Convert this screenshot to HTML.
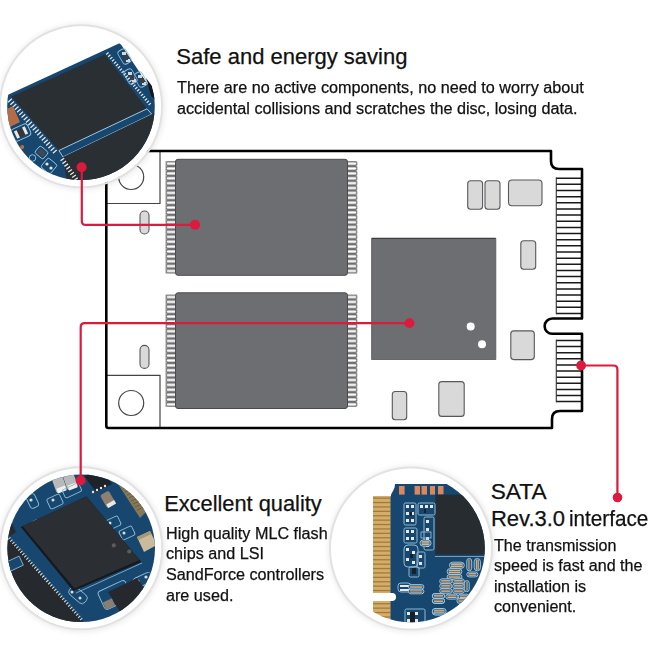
<!DOCTYPE html>
<html><head><meta charset="utf-8">
<style>
html,body{margin:0;padding:0;background:#fff;}
body{width:650px;height:650px;position:relative;overflow:hidden;font-family:"Liberation Sans",sans-serif;color:#111;}
svg{position:absolute;left:0;top:0;}
.t{position:absolute;white-space:nowrap;line-height:1;transform-origin:0 0;-webkit-text-stroke:0.25px #111;}
.h{font-size:22.5px;}
.b{font-size:15px;}
</style></head><body>
<svg width="650" height="650" viewBox="0 0 650 650">
<defs>
  <clipPath id="c1"><circle cx="81" cy="106.3" r="73.8"/></clipPath>
  <clipPath id="c2"><circle cx="81.2" cy="548.3" r="73.8"/></clipPath>
  <clipPath id="c3"><circle cx="411" cy="548.5" r="73.8"/></clipPath>
  <filter id="blur" x="-20%" y="-20%" width="140%" height="140%"><feGaussianBlur stdDeviation="3"/></filter>
  <pattern id="pinsL1" x="165.5" y="161.2" width="12" height="4.88" patternUnits="userSpaceOnUse">
    <rect x="0" y="0.25" width="14" height="4.4" rx="1.4" fill="#404042"/>
    <rect x="1" y="1.25" width="14" height="2.35" rx="0.9" fill="#fff"/>
  </pattern>
  <pattern id="pinsR1" x="346.5" y="161.2" width="12" height="4.88" patternUnits="userSpaceOnUse">
    <rect x="-3" y="0.25" width="14" height="4.4" rx="1.4" fill="#404042"/>
    <rect x="-3" y="1.25" width="13" height="2.35" rx="0.9" fill="#fff"/>
  </pattern>
  <pattern id="pinsL2" x="165.5" y="294.6" width="12" height="4.88" patternUnits="userSpaceOnUse">
    <rect x="0" y="0.25" width="14" height="4.4" rx="1.4" fill="#404042"/>
    <rect x="1" y="1.25" width="14" height="2.35" rx="0.9" fill="#fff"/>
  </pattern>
  <pattern id="pinsR2" x="346.5" y="294.6" width="12" height="4.88" patternUnits="userSpaceOnUse">
    <rect x="-3" y="0.25" width="14" height="4.4" rx="1.4" fill="#404042"/>
    <rect x="-3" y="1.25" width="13" height="2.35" rx="0.9" fill="#fff"/>
  </pattern>
  <pattern id="conn" width="26" height="6.1" patternUnits="userSpaceOnUse">
    <rect x="0" y="0" width="26" height="1.6" fill="#222"/>
  </pattern>
</defs>

<!-- board -->
<g>
  <!-- chips -->
  <rect x="165.5" y="161.2" width="11" height="112.3" fill="url(#pinsL1)"/>
  <rect x="346.5" y="161.2" width="11" height="112.3" fill="url(#pinsR1)"/>
  <rect x="175.5" y="159.3" width="172" height="116" rx="2.5" fill="#6d6e71" stroke="#4a4a4c" stroke-width="1"/>
  <rect x="165.5" y="294.6" width="11" height="112.2" fill="url(#pinsL2)"/>
  <rect x="346.5" y="294.6" width="11" height="112.2" fill="url(#pinsR2)"/>
  <rect x="175.5" y="292.8" width="172" height="115.7" rx="2.5" fill="#6d6e71" stroke="#4a4a4c" stroke-width="1"/>
  <rect x="371.6" y="238.4" width="124.2" height="121.1" fill="#6d6e71"/><path d="M371.6,238.4 H495.8" stroke="#3e3e40" stroke-width="1.2"/><path d="M371.6,238.4 V359.5 H495.8 V238.4" fill="none" stroke="#555557" stroke-width="0.8"/>
  <circle cx="470.7" cy="326.4" r="4" fill="#fff"/>
  <circle cx="482" cy="344.3" r="4" fill="#fff"/>
  <!-- components -->
  <g fill="#d9d9da" stroke="#58585a" stroke-width="1.1">
    <rect x="467.7" y="180.8" width="14.9" height="28.4" rx="3"/>
    <rect x="485" y="180.8" width="15" height="28.4" rx="3"/>
    <rect x="508.5" y="180" width="33.5" height="25.7" rx="3.5"/>
    <rect x="520.8" y="240.8" width="14.9" height="28.4" rx="3"/>
    <rect x="510.8" y="330.9" width="23.5" height="28.7" rx="3"/>
    <rect x="438.8" y="381.6" width="25.4" height="34.8" rx="3"/>
    <rect x="392.3" y="391.5" width="14.4" height="28.3" rx="3"/>
    <rect x="140" y="211" width="9" height="23" rx="4.5"/>
    <rect x="140" y="345.4" width="9" height="23" rx="4.5"/>
  </g>
  <!-- corner boxes -->
  <g fill="none" stroke="#444" stroke-width="1.2">
    <path d="M106,203.5 H160 V151"/>
    <path d="M106,375.4 H160 V428"/>
    <circle cx="131.2" cy="177" r="12.5"/>
    <circle cx="131.2" cy="403" r="12.5"/>
  </g>
  <!-- connector -->
  <path d="M556,178.20H582 M556,184.35H582 M556,190.50H582 M556,196.65H582 M556,202.80H582 M556,208.95H582 M556,215.10H582 M556,221.25H582 M556,227.40H582 M556,233.55H582 M556,239.70H582 M556,245.85H582 M556,252.00H582 M556,258.15H582 M556,264.30H582 M556,270.45H582 M556,276.60H582 M556,282.75H582 M556,288.90H582 M556,295.05H582 M556,301.20H582 M556,307.35H582 M556,313.50H582 M556,340.50H582 M556,346.61H582 M556,352.72H582 M556,358.83H582 M556,364.94H582 M556,371.05H582 M556,377.16H582 M556,383.27H582 M556,389.38H582 M556,395.49H582 M556,401.60H582" stroke="#1a1a1a" stroke-width="1.5"/>
  <path d="M556.3,177.5 V314.2 M556.3,339.8 V402.3" stroke="#333" stroke-width="1.1"/>
  <!-- outline -->
  <path d="M108.5,151 H551 V161 Q551,169 559,169 H582 V318.5 H552.3 A7.65,7.65 0 0 0 552.3,333.8 H582 V411 H560 Q552,411 552,419 V428 H108.5 Q106.3,428 106.3,425.8 V153.2 Q106.3,151 108.5,151 Z" fill="none" stroke="#000" stroke-width="2.6" stroke-linejoin="round"/>
</g>

<!-- circle 1 -->
<g>
  <circle cx="81.5" cy="106.8" r="82.5" fill="#000" opacity="0.09" filter="url(#blur)"/>
  <circle cx="81" cy="106.3" r="81" fill="none" stroke="#e2e2e2" stroke-width="2"/>
  <circle cx="81" cy="106.3" r="80" fill="#fff"/>
  <g clip-path="url(#c1)">
    <rect x="0" y="20" width="170" height="170" fill="#fff"/>
    <!-- pcb -->
    <polygon points="0,98.5 120,43 225,200 0,200" fill="#17476f"/>
    <!-- right edge dark sliver -->
    <polygon points="146,78 152,86 156,100 151,96" fill="#15191d"/>
    <!-- components top-right -->
    <g fill="none" stroke="#8cbcd8" stroke-width="0.9">
      <rect x="120" y="49" width="9" height="15" rx="3" transform="rotate(-30 124.5 56.5)"/>
      <rect x="126" y="69" width="9" height="15" rx="3" transform="rotate(-30 130.5 76.5)"/>
      <rect x="136" y="72" width="9" height="15" rx="3" transform="rotate(-30 140.5 79.5)"/>
    </g>
    <g fill="#d8d8d8">
      <rect x="122" y="52" width="4" height="3"/><rect x="126" y="59" width="4" height="3"/>
      <rect x="128" y="72" width="4" height="3"/><rect x="132" y="79" width="4" height="3"/>
      <rect x="138" y="75" width="4" height="3"/><rect x="142" y="82" width="4" height="3"/>
    </g>
    <g fill="#3a3f44"><rect x="124" y="55" width="4" height="5"/><rect x="130" y="75" width="4" height="5"/><rect x="140" y="78" width="4" height="5"/></g>
    <!-- upper chip -->
    <polygon points="11.5,96.5 104.8,54.6 147,108.8 58.9,150.5" fill="#2a2f34"/>
    <!-- pins left edge -->
    <line x1="9.5" y1="100" x2="56" y2="153" stroke="#e6e6e6" stroke-width="5" stroke-dasharray="1.3 2.1"/>
    <!-- pins right edge -->
    <line x1="107" y1="53" x2="150.5" y2="105" stroke="#e6e6e6" stroke-width="3" stroke-dasharray="1.2 1.8"/>
    <!-- band -->
    <polygon points="58.9,150.5 147,108.8 151.8,114.2 63,157" fill="#17476f" stroke="#9cc8e4" stroke-width="1"/>
    <!-- lower chip -->
    <polygon points="63,157 151.8,114.2 160,112 170,200 70,200" fill="#2a2f34"/>
    <!-- pins lower chip left -->
    <line x1="62" y1="159" x2="80" y2="185" stroke="#e6e6e6" stroke-width="4.5" stroke-dasharray="1.3 2.1"/>
    <!-- orange pad -->
    <polygon points="5,110 13,106 20,122 8,128" fill="#b56d47"/>
    <!-- lower-left components -->
    <g fill="none" stroke="#9cc8e4" stroke-width="0.9">
      <rect x="12" y="126" width="18" height="13" rx="3.5" transform="rotate(-25 21 132.5)"/>
      <circle cx="32.5" cy="158" r="3.3"/>
      <rect x="36" y="148" width="11" height="9" rx="2" transform="rotate(40 41.5 152.5)"/>
      <rect x="43" y="160" width="12" height="12" rx="2" transform="rotate(40 49 166)"/>
    </g>
    <rect x="15" y="128.5" width="12" height="8" fill="#33373b" transform="rotate(-25 21 132.5)"/>
    <rect x="15" y="128.5" width="3" height="8" fill="#e8e8e8" transform="rotate(-25 21 132.5)"/>
    <rect x="24" y="128.5" width="3" height="8" fill="#e8e8e8" transform="rotate(-25 21 132.5)"/>
    <rect x="38" y="150" width="7" height="5" fill="#44484c" transform="rotate(40 41.5 152.5)"/>
    <circle cx="47" cy="164" r="1.6" fill="#e8e8e8"/><circle cx="51" cy="168" r="1.6" fill="#e8e8e8"/>
    <circle cx="22.2" cy="147" r="2" fill="#b56d47"/>
  </g>
</g>

<!-- circle 2 -->
<g>
  <circle cx="81.7" cy="548.8" r="82.5" fill="#000" opacity="0.09" filter="url(#blur)"/>
  <circle cx="81.2" cy="548.3" r="81" fill="none" stroke="#e2e2e2" stroke-width="2"/>
  <circle cx="81.2" cy="548.3" r="80" fill="#fff"/>
  <g clip-path="url(#c2)">
    <rect x="0" y="460" width="170" height="180" fill="#17476f"/>
    <!-- top dark area and components -->
    <polygon points="84,476 100,468 112,484 96,492" fill="#1e2328"/>
    <g fill="#e6e6e6"><circle cx="97" cy="490" r="1.2"/><circle cx="101" cy="488" r="1.2"/><circle cx="105" cy="486" r="1.2"/><circle cx="93" cy="492" r="1.2"/></g>
    <g fill="#b9b9b9">
      <rect x="54" y="477" width="11" height="15" rx="2" transform="rotate(-20 59.5 484.5)"/>
      <rect x="65" y="474" width="11" height="15" rx="2" transform="rotate(-20 70.5 481.5)"/>
    </g>
    <g fill="#f0f0f0">
      <rect x="57" y="487" width="9" height="5" transform="rotate(-20 61.5 489.5)"/>
      <rect x="68" y="484" width="9" height="5" transform="rotate(-20 72.5 486.5)"/>
    </g>
    <rect x="103" y="492" width="10" height="15" rx="2" fill="#8e7f70" transform="rotate(-30 108 499.5)"/>
    <rect x="104" y="503" width="9" height="4" fill="#e8e8e8" transform="rotate(-30 108 499.5)"/>
    <polygon points="118,484 126,482 146,512 140,518" fill="#a88a52" opacity="0.75"/>
    <path d="M121,486 L128,483 M123,489 L130,486 M125,492 L132,489 M127,495 L134,492 M129,498 L136,495 M131,501 L138,498 M133,504 L140,501 M135,507 L142,504 M137,510 L144,507" stroke="#6e5a34" stroke-width="0.9"/>
    <!-- light outlined traces -->
    <g fill="none" stroke="#8cbcd8" stroke-width="0.9">
      <rect x="28" y="494" width="9" height="14" rx="3" transform="rotate(-25 32.5 501)"/>
      <rect x="33" y="520" width="9" height="14" rx="3" transform="rotate(-25 37.5 527)"/>
      <rect x="46" y="515" width="9" height="14" rx="3" transform="rotate(-25 50.5 522)"/>
      <rect x="48" y="496" width="14" height="11" rx="2" transform="rotate(-25 55 501.5)"/>
      <rect x="63" y="486" width="18" height="9" rx="2" transform="rotate(-25 72 490.5)"/>
      <rect x="106" y="518" width="14" height="10" rx="2" transform="rotate(-25 113 523)"/>
      <rect x="120" y="528" width="14" height="10" rx="2" transform="rotate(-25 127 533)"/>
      <rect x="133" y="575" width="20" height="10" rx="4" transform="rotate(-25 143 580)"/>
      <rect x="30" y="600" width="12" height="8" rx="2" transform="rotate(40 36 604)"/>
      <rect x="68" y="590" width="20" height="10" rx="4" transform="rotate(40 78 595)"/>
      <rect x="100" y="585" width="30" height="20" rx="3" transform="rotate(-25 115 595)"/>
    </g>
    <g fill="#dcdcdc">
      <circle cx="31" cy="500" r="1.6"/><circle cx="35" cy="526" r="1.6"/><circle cx="49" cy="521" r="1.6"/>
      <circle cx="53" cy="500" r="1.5"/><circle cx="110" cy="523" r="1.5"/><circle cx="124" cy="533" r="1.5"/>
      <circle cx="138" cy="581" r="1.6"/><circle cx="146" cy="577" r="1.6"/><circle cx="154" cy="573" r="1.6"/>
      <circle cx="72" cy="592" r="1.5"/><circle cx="80" cy="598" r="1.5"/>
    </g>
    <!-- lower-left chip -->
    <polygon points="0,548 8.5,537 83,621.5 60,640 0,640" fill="#262a2f"/>
    <line x1="9" y1="538" x2="82" y2="620" stroke="#d8d8d8" stroke-width="3" stroke-dasharray="1.1 1.9"/>
    <polygon points="0,520 8,516 16,532 4,540 0,540" fill="#262a2f"/>
    <rect x="6" y="559" width="16" height="10" fill="#17476f" stroke="#8cbcd8" stroke-width="0.8" transform="rotate(-25 14 564)"/>
    <!-- main chip -->
    <polygon points="20.8,527 86.4,496.6 141.4,562 73.3,591" fill="#15191d"/>
    <polygon points="22.5,526 86.4,496.6 139.5,560 74.5,588.5" fill="#2b2f34"/>
    <line x1="76" y1="593" x2="142" y2="563" stroke="#8cbcd8" stroke-width="0.8"/>
    <circle cx="113.8" cy="545.4" r="2.1" fill="#585c60"/>
    <circle cx="129.2" cy="551.5" r="2.1" fill="#585c60"/>
    <!-- crystal -->
    <polygon points="137,537 150,531 157,545 144,552" fill="#cbbb9d"/>
    <polygon points="137,537 150,531 151.5,534 138.5,540" fill="#a89674"/>
    <!-- mosfet -->
    <polygon points="108,592 137,578 150,596 120,612" fill="#25292e"/>
    <rect x="104" y="600" width="10" height="8" fill="#8a7e72" transform="rotate(-25 109 604)"/>
  </g>
</g>

<!-- circle 3 -->
<g>
  <circle cx="411.5" cy="549" r="82.5" fill="#000" opacity="0.09" filter="url(#blur)"/>
  <circle cx="411" cy="548.5" r="81" fill="none" stroke="#e2e2e2" stroke-width="2"/>
  <circle cx="411" cy="548.5" r="80" fill="#fff"/>
  <g clip-path="url(#c3)">
    <rect x="320" y="460" width="180" height="180" fill="#fff"/>
    <rect x="373" y="496" width="18" height="130" fill="#d4ad68"/>
    <rect x="373" y="497.50" width="17.5" height="1.3" fill="#a27b3c"/><rect x="373" y="501.90" width="17.5" height="1.3" fill="#a27b3c"/><rect x="373" y="506.30" width="17.5" height="1.3" fill="#a27b3c"/><rect x="373" y="510.70" width="17.5" height="1.3" fill="#a27b3c"/><rect x="373" y="515.10" width="17.5" height="1.3" fill="#a27b3c"/><rect x="373" y="519.50" width="17.5" height="1.3" fill="#a27b3c"/><rect x="373" y="523.90" width="17.5" height="1.3" fill="#a27b3c"/><rect x="373" y="528.30" width="17.5" height="1.3" fill="#a27b3c"/><rect x="373" y="532.70" width="17.5" height="1.3" fill="#a27b3c"/><rect x="373" y="537.10" width="17.5" height="1.3" fill="#a27b3c"/><rect x="373" y="541.50" width="17.5" height="1.3" fill="#a27b3c"/><rect x="373" y="545.90" width="17.5" height="1.3" fill="#a27b3c"/><rect x="373" y="550.30" width="17.5" height="1.3" fill="#a27b3c"/><rect x="373" y="554.70" width="17.5" height="1.3" fill="#a27b3c"/><rect x="373" y="559.10" width="17.5" height="1.3" fill="#a27b3c"/><rect x="373" y="563.50" width="17.5" height="1.3" fill="#a27b3c"/><rect x="373" y="567.90" width="17.5" height="1.3" fill="#a27b3c"/><rect x="373" y="572.30" width="17.5" height="1.3" fill="#a27b3c"/><rect x="373" y="576.70" width="17.5" height="1.3" fill="#a27b3c"/><rect x="373" y="581.10" width="17.5" height="1.3" fill="#a27b3c"/><rect x="373" y="585.50" width="17.5" height="1.3" fill="#a27b3c"/><rect x="373" y="589.90" width="17.5" height="1.3" fill="#a27b3c"/><rect x="373" y="594.30" width="17.5" height="1.3" fill="#a27b3c"/><rect x="373" y="598.70" width="17.5" height="1.3" fill="#a27b3c"/><rect x="373" y="603.10" width="17.5" height="1.3" fill="#a27b3c"/><rect x="373" y="607.50" width="17.5" height="1.3" fill="#a27b3c"/><rect x="373" y="611.90" width="17.5" height="1.3" fill="#a27b3c"/><rect x="373" y="616.30" width="17.5" height="1.3" fill="#a27b3c"/><rect x="373" y="620.70" width="17.5" height="1.3" fill="#a27b3c"/>
    <path d="M395,484 H500 V640 H390.5 V498 Q390.5,494 393,491 Q395,488 395,484 Z" fill="#17476f"/>
    <path d="M449,484 L500,484 L500,520 Z" fill="#17476f"/>
    <g fill="#d9875f">
      <rect x="399" y="486" width="5.6" height="8.6"/>
      <rect x="414.6" y="486" width="5.4" height="8.6"/>
      <rect x="421.5" y="486" width="5.5" height="8.6"/>
      <rect x="430" y="486" width="5" height="8.6"/>
      <rect x="438" y="486" width="5.5" height="8.6"/>
    </g>
    <rect x="435.4" y="494.6" width="80" height="60" fill="#272c31"/>
    <line x1="435" y1="556.5" x2="500" y2="556.5" stroke="#8fb5cc" stroke-width="0.8"/>
    
<g fill="none" stroke="#9cc6de" stroke-width="0.9">
  <rect x="404" y="503" width="12" height="22" rx="1.5"/>
  <rect x="418" y="503" width="17" height="12" rx="1.5"/>
  <rect x="404" y="528" width="13" height="15" rx="1.5"/>
  <rect x="404" y="545" width="14" height="22" rx="4"/>
  <rect x="409" y="567" width="10" height="10" rx="1.5"/>
  <rect x="417" y="552" width="8" height="16" rx="1.5"/>
  <rect x="424" y="517" width="10" height="33" rx="1.5"/>
  <rect x="405" y="609" width="20" height="16" rx="1.5"/>
  <rect x="398" y="583" width="13" height="9" rx="3"/>
</g>
<g fill="#e8e8e8">
  <rect x="406" y="505" width="3" height="3"/><rect x="411" y="505" width="3" height="3"/>
  <rect x="406" y="512" width="3" height="3"/><rect x="411" y="512" width="3" height="3"/>
  <rect x="406" y="519" width="3" height="3"/><rect x="411" y="519" width="3" height="3"/>
  <rect x="420" y="505" width="3" height="3"/><rect x="425" y="505" width="3" height="3"/><rect x="430" y="505" width="3" height="3"/>
  <rect x="406" y="530" width="3" height="3"/><rect x="411" y="530" width="3" height="3"/>
  <rect x="406" y="537" width="3" height="3"/><rect x="411" y="537" width="3" height="3"/>
  <rect x="406" y="548" width="3" height="3"/><rect x="412" y="551" width="3" height="3"/>
  <rect x="406" y="558" width="3" height="3"/><rect x="412" y="561" width="3" height="3"/>
  <rect x="426" y="520" width="3" height="3"/><rect x="426" y="528" width="3" height="3"/>
  <rect x="426" y="537" width="3" height="3"/><rect x="426" y="544" width="3" height="3"/>
  <rect x="419" y="555" width="3" height="3"/><rect x="419" y="562" width="3" height="3"/>
  <rect x="407" y="612" width="3" height="3"/><rect x="415" y="612" width="3" height="3"/>
  <rect x="407" y="619" width="3" height="3"/><rect x="415" y="619" width="3" height="3"/>
  <rect x="400" y="585" width="9" height="2"/><rect x="400" y="589" width="9" height="2"/>
</g>
<g fill="#1a1f25">
  <rect x="410" y="512" width="2" height="4"/><rect x="424" y="509" width="2" height="4"/>
  <rect x="410" y="554" width="3" height="4"/><rect x="412" y="568" width="4" height="6"/>
  <rect x="410" y="612" width="5" height="12"/>
</g>
<rect x="421" y="532" width="10" height="6" fill="none" stroke="#9cc6de" stroke-width="0.8"/>

    <rect x="449.5" y="562.2" width="14.8" height="6.2" rx="3.1" fill="#1f4f78" stroke="#a9d0e8" stroke-width="0.9"/><rect x="451.1" y="563.3" width="11.6" height="4.0" fill="#cdb898"/><rect x="451.1" y="564.9" width="11.6" height="0.7" fill="#6b5d4e"/><rect x="447.1" y="568.6" width="14.8" height="5.9" rx="3.0" fill="#1f4f78" stroke="#a9d0e8" stroke-width="0.9"/><rect x="448.7" y="569.7" width="11.6" height="3.7" fill="#cdb898"/><rect x="448.7" y="571.2" width="11.6" height="0.7" fill="#6b5d4e"/><rect x="447.1" y="574.5" width="14.8" height="4.9" rx="2.5" fill="#1f4f78" stroke="#a9d0e8" stroke-width="0.9"/><rect x="448.7" y="575.6" width="11.6" height="2.7" fill="#cdb898"/><rect x="448.7" y="576.6" width="11.6" height="0.7" fill="#6b5d4e"/><rect x="439.7" y="578.8" width="12.3" height="4.9" rx="2.5" fill="#1f4f78" stroke="#a9d0e8" stroke-width="0.9"/><rect x="441.3" y="579.9" width="9.1" height="2.7" fill="#cdb898"/><rect x="441.3" y="580.9" width="9.1" height="0.7" fill="#6b5d4e"/><rect x="452.6" y="578.8" width="11.7" height="4.9" rx="2.5" fill="#1f4f78" stroke="#a9d0e8" stroke-width="0.9"/><rect x="454.2" y="579.9" width="8.5" height="2.7" fill="#cdb898"/><rect x="454.2" y="580.9" width="8.5" height="0.7" fill="#6b5d4e"/><rect x="439.7" y="583.7" width="12.3" height="4.9" rx="2.5" fill="#1f4f78" stroke="#a9d0e8" stroke-width="0.9"/><rect x="441.3" y="584.8" width="9.1" height="2.7" fill="#cdb898"/><rect x="441.3" y="585.8" width="9.1" height="0.7" fill="#6b5d4e"/><rect x="452.6" y="583.7" width="11.7" height="4.9" rx="2.5" fill="#1f4f78" stroke="#a9d0e8" stroke-width="0.9"/><rect x="454.2" y="584.8" width="8.5" height="2.7" fill="#cdb898"/><rect x="454.2" y="585.8" width="8.5" height="0.7" fill="#6b5d4e"/><rect x="439.7" y="588.6" width="12.3" height="4.6" rx="2.3" fill="#1f4f78" stroke="#a9d0e8" stroke-width="0.9"/><rect x="441.3" y="589.7" width="9.1" height="2.4" fill="#cdb898"/><rect x="441.3" y="590.5" width="9.1" height="0.7" fill="#6b5d4e"/><rect x="452.6" y="588.6" width="11.7" height="4.6" rx="2.3" fill="#1f4f78" stroke="#a9d0e8" stroke-width="0.9"/><rect x="454.2" y="589.7" width="8.5" height="2.4" fill="#cdb898"/><rect x="454.2" y="590.5" width="8.5" height="0.7" fill="#6b5d4e"/><rect x="432.3" y="593.5" width="12.3" height="4.9" rx="2.5" fill="#1f4f78" stroke="#a9d0e8" stroke-width="0.9"/><rect x="433.9" y="594.6" width="9.1" height="2.7" fill="#cdb898"/><rect x="433.9" y="595.6" width="9.1" height="0.7" fill="#6b5d4e"/><rect x="445.8" y="594.2" width="12.3" height="4.9" rx="2.5" fill="#1f4f78" stroke="#a9d0e8" stroke-width="0.9"/><rect x="447.4" y="595.3" width="9.1" height="2.7" fill="#cdb898"/><rect x="447.4" y="596.3" width="9.1" height="0.7" fill="#6b5d4e"/><rect x="458.2" y="594.2" width="11.1" height="4.9" rx="2.5" fill="#1f4f78" stroke="#a9d0e8" stroke-width="0.9"/><rect x="459.8" y="595.3" width="7.9" height="2.7" fill="#cdb898"/><rect x="459.8" y="596.3" width="7.9" height="0.7" fill="#6b5d4e"/><rect x="432.3" y="598.5" width="12.3" height="4.9" rx="2.5" fill="#1f4f78" stroke="#a9d0e8" stroke-width="0.9"/><rect x="433.9" y="599.6" width="9.1" height="2.7" fill="#cdb898"/><rect x="433.9" y="600.6" width="9.1" height="0.7" fill="#6b5d4e"/><rect x="456.9" y="598.5" width="9.8" height="4.9" rx="2.5" fill="#1f4f78" stroke="#a9d0e8" stroke-width="0.9"/><rect x="458.5" y="599.6" width="6.6" height="2.7" fill="#cdb898"/><rect x="458.5" y="600.6" width="6.6" height="0.7" fill="#6b5d4e"/><rect x="466.8" y="558.5" width="4.9" height="12.3" rx="2.5" fill="#1f4f78" stroke="#a9d0e8" stroke-width="0.9"/><rect x="468.4" y="559.6" width="1.7" height="10.1" fill="#cdb898"/><rect x="468.9" y="559.6" width="0.7" height="10.1" fill="#6b5d4e"/><rect x="474.2" y="558.5" width="6.2" height="12.3" rx="3.1" fill="#1f4f78" stroke="#a9d0e8" stroke-width="0.9"/><rect x="475.8" y="559.6" width="3.0" height="10.1" fill="#cdb898"/><rect x="476.9" y="559.6" width="0.7" height="10.1" fill="#6b5d4e"/><rect x="466.8" y="572.0" width="11.1" height="4.9" rx="2.5" fill="#1f4f78" stroke="#a9d0e8" stroke-width="0.9"/><rect x="468.4" y="573.1" width="7.9" height="2.7" fill="#cdb898"/><rect x="468.4" y="574.1" width="7.9" height="0.7" fill="#6b5d4e"/><rect x="464.3" y="580.6" width="4.9" height="11.1" rx="2.5" fill="#1f4f78" stroke="#a9d0e8" stroke-width="0.9"/><rect x="465.9" y="581.7" width="1.7" height="8.9" fill="#cdb898"/><rect x="466.4" y="581.7" width="0.7" height="8.9" fill="#6b5d4e"/><rect x="432.3" y="608.9" width="13.5" height="6.2" rx="3.1" fill="#1f4f78" stroke="#a9d0e8" stroke-width="0.9"/><rect x="433.9" y="610.0" width="10.3" height="4.0" fill="#cdb898"/><rect x="433.9" y="611.6" width="10.3" height="0.7" fill="#6b5d4e"/><rect x="420.0" y="540.0" width="11.1" height="6.2" rx="3.1" fill="#1f4f78" stroke="#a9d0e8" stroke-width="0.9"/><rect x="421.6" y="541.1" width="7.9" height="4.0" fill="#cdb898"/><rect x="421.6" y="542.7" width="7.9" height="0.7" fill="#6b5d4e"/><rect x="408.5" y="584.6" width="15.4" height="4.6" rx="2.3" fill="#1f4f78" stroke="#a9d0e8" stroke-width="0.9"/><rect x="410.1" y="585.7" width="12.2" height="2.4" fill="#cdb898"/><rect x="410.1" y="586.6" width="12.2" height="0.7" fill="#6b5d4e"/><rect x="408.5" y="589.2" width="15.4" height="4.6" rx="2.3" fill="#1f4f78" stroke="#a9d0e8" stroke-width="0.9"/><rect x="410.1" y="590.3" width="12.2" height="2.4" fill="#cdb898"/><rect x="410.1" y="591.2" width="12.2" height="0.7" fill="#6b5d4e"/><rect x="432.3" y="593.8" width="12.3" height="4.6" rx="2.3" fill="#1f4f78" stroke="#a9d0e8" stroke-width="0.9"/><rect x="433.9" y="594.9" width="9.1" height="2.4" fill="#cdb898"/><rect x="433.9" y="595.8" width="9.1" height="0.7" fill="#6b5d4e"/><rect x="432.3" y="598.5" width="12.3" height="4.6" rx="2.3" fill="#1f4f78" stroke="#a9d0e8" stroke-width="0.9"/><rect x="433.9" y="599.6" width="9.1" height="2.4" fill="#cdb898"/><rect x="433.9" y="600.4" width="9.1" height="0.7" fill="#6b5d4e"/><rect x="432.3" y="608.5" width="13.8" height="5.4" rx="2.7" fill="#1f4f78" stroke="#a9d0e8" stroke-width="0.9"/><rect x="433.9" y="609.6" width="10.6" height="3.2" fill="#cdb898"/><rect x="433.9" y="610.8" width="10.6" height="0.7" fill="#6b5d4e"/>
    <rect x="360" y="593" width="36" height="8" rx="4" fill="#fff"/>
  </g>
</g>

<!-- red lines -->
<g fill="none" stroke="#dc1a3e" stroke-width="2.2" stroke-linejoin="round">
  <path d="M81.8,167 V220.9 Q81.8,224.9 85.8,224.9 H195"/>
  <path d="M80.7,481 V327.2 Q80.7,323.2 84.7,323.2 H409.5"/>
  <path d="M581,365.5 H613.4 Q617.4,365.5 617.4,369.5 V497.5"/>
</g>
<g fill="#dc1a3e">
  <circle cx="81.6" cy="167.2" r="5"/>
  <circle cx="195.1" cy="224.85" r="5"/>
  <circle cx="409.5" cy="323.15" r="4.9"/>
  <circle cx="80.6" cy="480.5" r="5"/>
  <circle cx="581.1" cy="365.5" r="4.9"/>
  <circle cx="617.5" cy="497.5" r="4.8"/>
</g>
</svg>

<div class="t" style="left:176.3px;top:45.8px;font-size:22px;">Safe and energy saving</div>
<div class="t" style="left:176.8px;top:80.1px;font-size:16px;transform:scaleX(1.012)">There are no active components, no need to worry about</div>
<div class="t" style="left:176.5px;top:100.9px;font-size:16px;transform:scaleX(1.012)">accidental collisions and scratches the disc, losing data.</div>

<div class="t" style="left:164.2px;top:492.6px;font-size:21.8px;">Excellent quality</div>
<div class="t" style="left:165.5px;top:526.2px;font-size:16px;transform:scaleX(1.01)">High quality MLC flash</div>
<div class="t" style="left:165.5px;top:546.3px;font-size:16px;transform:scaleX(1.01)">chips and LSI</div>
<div class="t" style="left:165.5px;top:567.2px;font-size:16px;transform:scaleX(1.01)">SandForce controllers</div>
<div class="t" style="left:165.5px;top:587.5px;font-size:16px;transform:scaleX(1.01)">are used.</div>

<div class="t" style="left:490.7px;top:479.5px;font-size:22.7px;">SATA</div>
<div class="t" style="left:490.9px;top:507.8px;font-size:22px;">Rev.3.0</div>
<div class="t" style="left:569.2px;top:507.8px;font-size:22px;transform:scaleX(0.94)">interface</div>
<div class="t" style="left:493.9px;top:538px;font-size:16px;transform:scaleX(1.005)">The transmission</div>
<div class="t" style="left:493.9px;top:558px;font-size:16px;transform:scaleX(1.005)">speed is fast and the</div>
<div class="t" style="left:493.9px;top:578.9px;font-size:16px;transform:scaleX(1.005)">installation is</div>
<div class="t" style="left:493.9px;top:599.2px;font-size:16px;transform:scaleX(1.005)">convenient.</div>
</body></html>
